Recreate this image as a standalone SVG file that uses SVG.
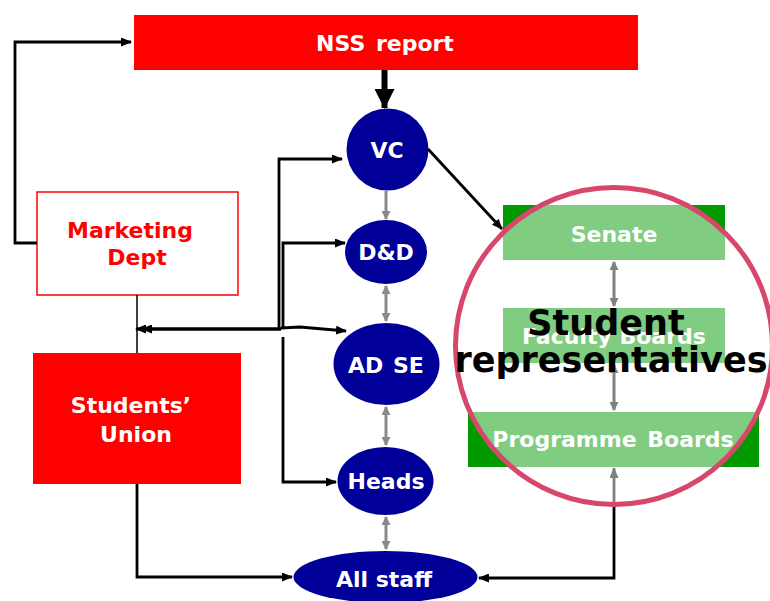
<svg xmlns="http://www.w3.org/2000/svg" width="770" height="601" viewBox="0 0 770 601">
<style>
.t{font-family:"DejaVu Sans","Verdana",sans-serif;font-weight:bold;font-size:22px;text-anchor:middle;fill:#fff}
.red{fill:#ff0000}
.blue{fill:#000099}
.green{fill:#009900}
.k{stroke:#000;stroke-width:2.8;fill:none}
.g{stroke:#8a8a8a;stroke-width:3;fill:none}
</style>
<defs>
<marker id="ab" markerWidth="11" markerHeight="9" refX="10" refY="4.5" orient="auto-start-reverse" markerUnits="userSpaceOnUse"><path d="M0,0 L11,4.5 L0,9 z" fill="#000"/></marker>
<marker id="ag" markerWidth="9" markerHeight="9" refX="8" refY="4.5" orient="auto-start-reverse" markerUnits="userSpaceOnUse"><path d="M0,0 L9,4.5 L0,9 z" fill="#8a8a8a"/></marker>
<marker id="ak" markerWidth="9" markerHeight="9" refX="8" refY="4.5" orient="auto-start-reverse" markerUnits="userSpaceOnUse"><path d="M0,0 L9,4.5 L0,9 z" fill="#000"/></marker>
<marker id="abig" markerWidth="20" markerHeight="20" refX="19" refY="10" orient="auto" markerUnits="userSpaceOnUse"><path d="M0,0 L20,10 L0,20 z" fill="#000"/></marker>
</defs>

<g id="nss"><rect x="134" y="15" width="504" height="55" class="red"/><text class="t" x="385" y="51" word-spacing="3">NSS report</text></g>

<g id="marketing"><rect x="37" y="192" width="201" height="103" fill="#fff" stroke="#ff0000" stroke-width="1.5"/>
<text class="t" style="fill:#ff0000" x="130" y="238">Marketing</text><text class="t" style="fill:#ff0000" x="137" y="265">Dept</text></g>

<g id="union"><rect x="33" y="353" width="208" height="131" class="red"/>
<text class="t" x="131" y="413">Students’</text><text class="t" x="136" y="442">Union</text></g>

<g id="vc"><ellipse cx="387.5" cy="149.5" rx="41" ry="41" class="blue"/><text class="t" x="387" y="158">VC</text></g>
<g id="dd"><ellipse cx="386" cy="252" rx="41" ry="32" class="blue"/><text class="t" x="386" y="260">D&amp;D</text></g>
<g id="adse"><ellipse cx="386.5" cy="364" rx="53" ry="41" class="blue"/><text class="t" x="386" y="373" word-spacing="2">AD SE</text></g>
<g id="heads"><ellipse cx="385.5" cy="481" rx="48" ry="34" class="blue"/><text class="t" x="386" y="489">Heads</text></g>
<g id="allstaff"><ellipse cx="385.5" cy="577" rx="92" ry="26" class="blue"/><text class="t" x="384" y="587">All staff</text></g>

<g id="senate"><rect x="503" y="205" width="222" height="55" class="green"/><text class="t" x="614" y="242">Senate</text></g>
<g id="faculty"><rect x="503" y="308" width="222" height="55" class="green"/><text class="t" x="614" y="344">Faculty Boards</text></g>
<g id="programme"><rect x="468" y="412" width="291" height="55" class="green"/><text class="t" x="613" y="447" word-spacing="3">Programme Boards</text></g>

<g id="connectors">
<path class="k" d="M37,243 H15 V42 H131" marker-end="url(#ab)"/>
<line x1="384.5" y1="70" x2="384.5" y2="108" stroke="#000" stroke-width="6" marker-end="url(#abig)"/>
<line class="k" x1="428" y1="149" x2="502" y2="229" marker-end="url(#ab)"/>
<line x1="137" y1="295" x2="137" y2="353" stroke="#000" stroke-width="1.5"/>
<path class="k" d="M279,329 V159 H342" marker-end="url(#ab)"/>
<path class="k" d="M283,329 V243 H345" marker-end="url(#ab)"/>
<path class="k" d="M281,328 L300,327 L346,331" marker-end="url(#ab)"/>
<line class="k" x1="281" y1="329" x2="136" y2="329" marker-end="url(#ab)"/>
<line class="k" x1="281" y1="329" x2="142" y2="329" marker-end="url(#ab)"/>
<path class="k" d="M283,337 V482 H336" marker-end="url(#ab)"/>
<path class="k" d="M137,484 V577 H292" marker-end="url(#ab)"/>
<path class="k" d="M614,468 V578 H479" marker-start="url(#ab)" marker-end="url(#ab)"/>
<line class="g" x1="386" y1="191" x2="386" y2="219" marker-end="url(#ag)"/>
<line class="g" x1="386" y1="286" x2="386" y2="321" marker-start="url(#ag)" marker-end="url(#ag)"/>
<line class="g" x1="386" y1="407" x2="386" y2="445" marker-start="url(#ag)" marker-end="url(#ag)"/>
<line class="g" x1="386" y1="517" x2="386" y2="549" marker-start="url(#ag)" marker-end="url(#ag)"/>
<line stroke="#000" stroke-width="3" x1="614" y1="262" x2="614" y2="306" marker-start="url(#ak)" marker-end="url(#ak)"/>
<line stroke="#000" stroke-width="3" x1="614" y1="365" x2="614" y2="410" marker-start="url(#ak)" marker-end="url(#ak)"/>
</g>

<g id="students-representatives">
<circle cx="614" cy="346" r="158.5" fill="#fff" fill-opacity="0.5" stroke="#d6476b" stroke-width="5"/>
<text class="t" style="fill:#000;font-size:35px" x="606" y="335">Student</text>
<text class="t" style="fill:#000;font-size:35px" x="611" y="372" textLength="313" lengthAdjust="spacingAndGlyphs">representatives</text>
</g>
</svg>
